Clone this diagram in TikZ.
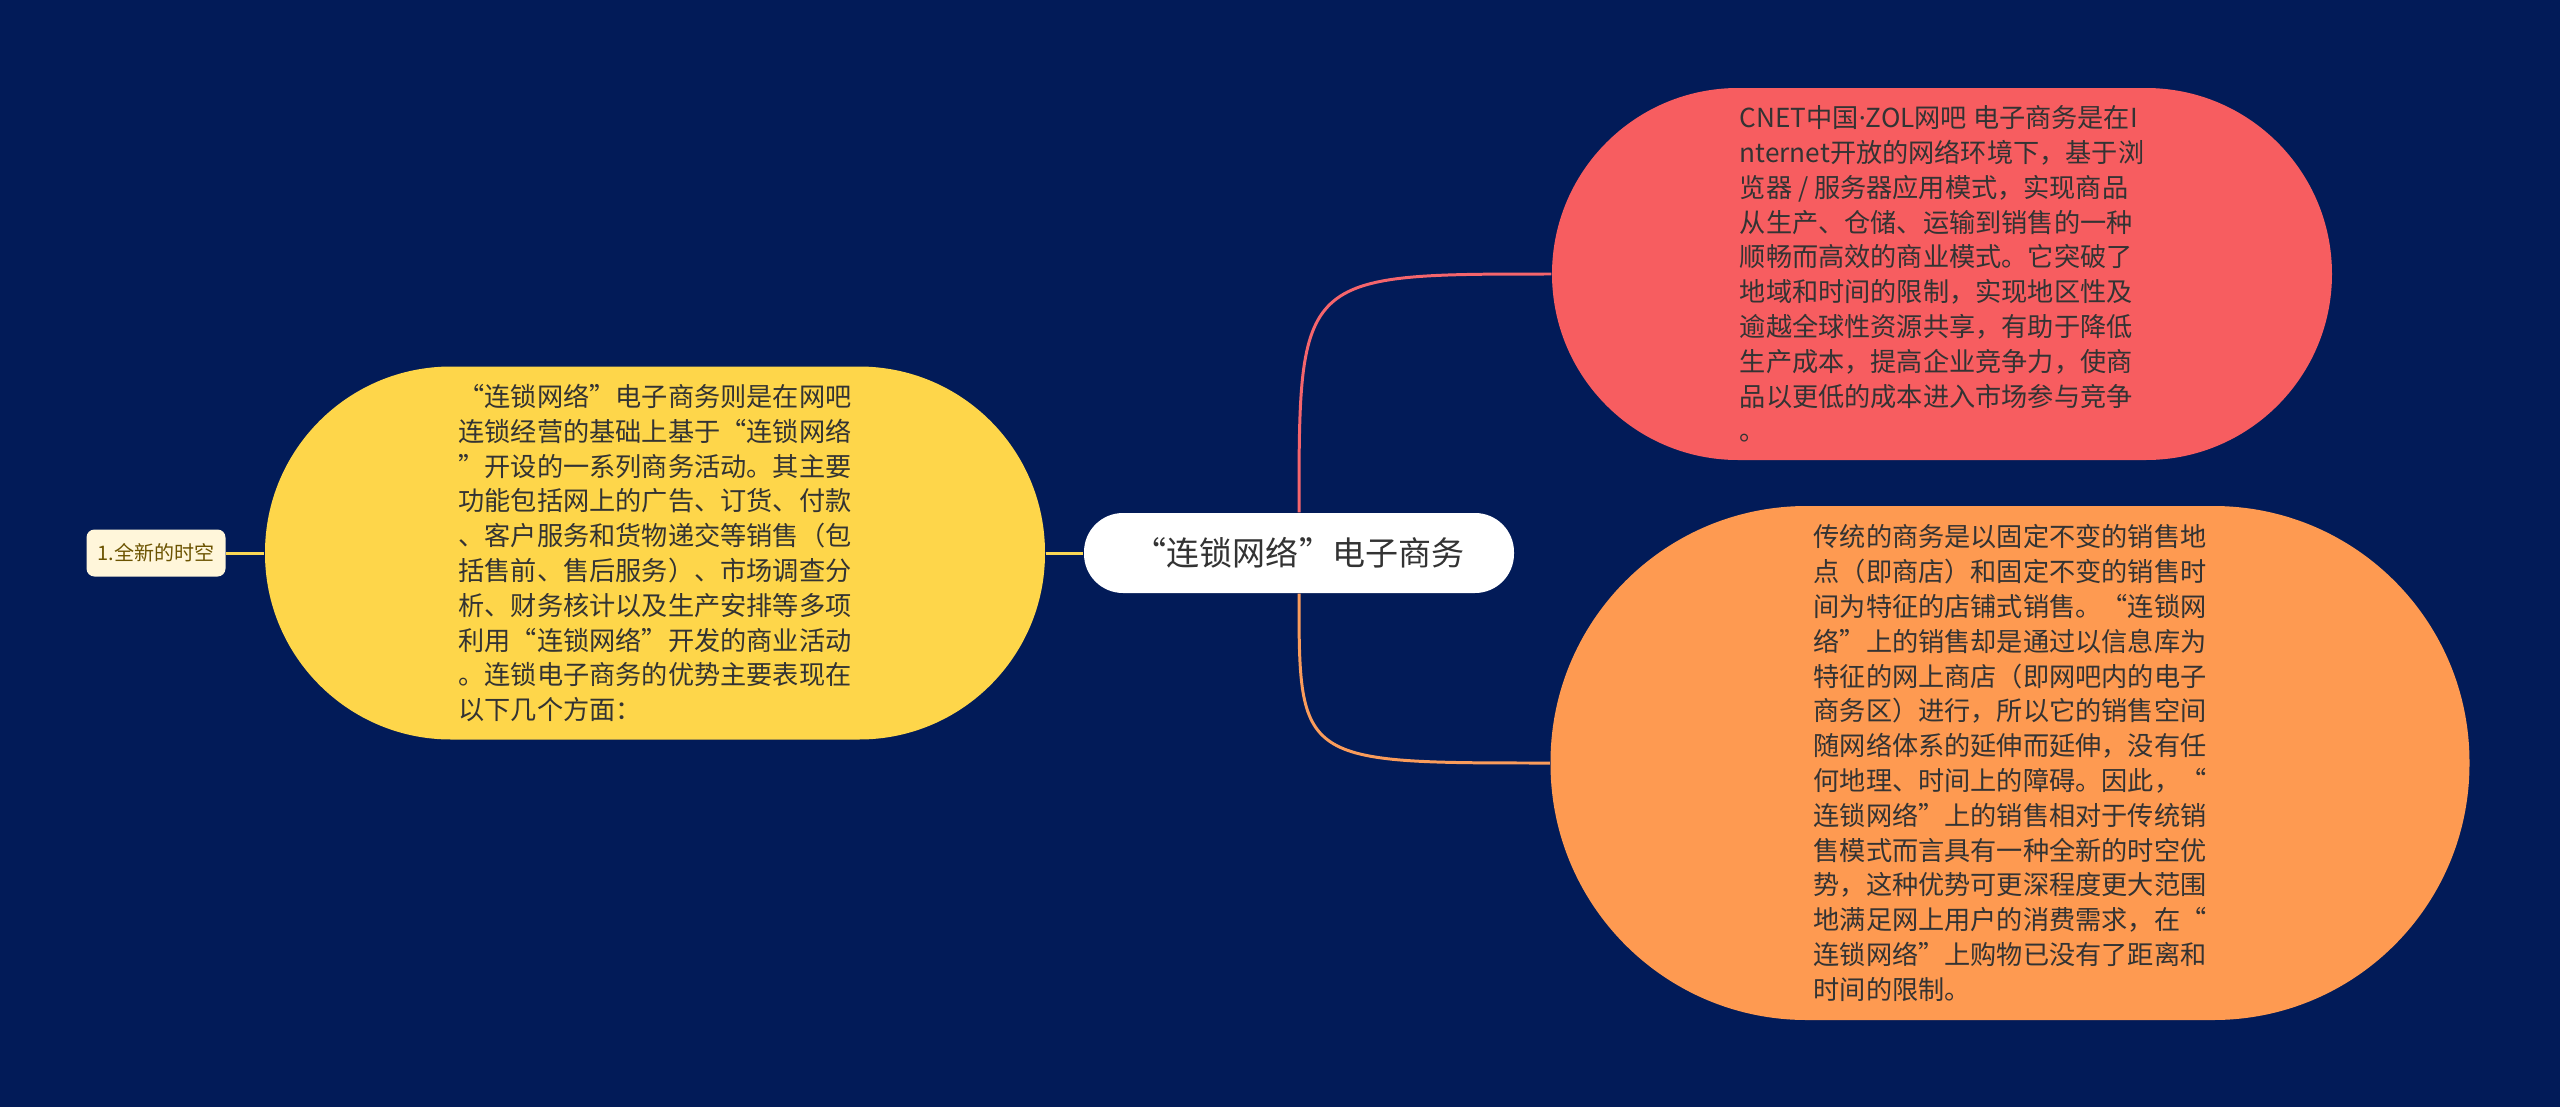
\documentclass[tikz,border=0pt]{standalone}
\usepackage{fontspec}
\setmainfont{Noto Sans CJK SC}
\newfontfamily\latinfont{Noto Sans}
\usetikzlibrary{positioning}

\definecolor{bgnavy}{HTML}{021B58}
\definecolor{nodered}{HTML}{F75D60}
\definecolor{nodeorange}{HTML}{FE9A51}
\definecolor{nodeyellow}{HTML}{FED64A}
\definecolor{tagcream}{HTML}{FFF6DA}
\definecolor{tagtext}{HTML}{6B5300}
\definecolor{textdark}{HTML}{333333}
\definecolor{linered}{HTML}{F5656C}
\definecolor{lineorange}{HTML}{FA9C5B}
\definecolor{lineyellow}{HTML}{FBD855}

\begin{document}
\begin{tikzpicture}[x=0.1mm, y=-0.1mm,
    bubble/.style={rectangle, inner sep=0pt, align=left, text=textdark,
        font=\fontsize{7.45pt}{9.9pt}\selectfont},
    link/.style={line width=0.85pt}]
    % Background
    \fill[bgnavy] (0,0) rectangle (2560,1107);
    \useasboundingbox (0,0) rectangle (2560,1107);

    % Root
    \node[rectangle, fill=white, rounded corners=3.9mm, minimum width=43mm,
        minimum height=8mm, text=textdark,
        font=\fontsize{9.4pt}{11pt}\selectfont] (root) at (1299,553) {“连锁网络”电子商务};

    % Left branch
    \node[bubble, fill=nodeyellow, rounded corners=18.6mm, minimum width=78mm,
        minimum height=37.3mm] (chain) at (655,553)
        {“连锁网络”电子商务则是在网吧\\
         连锁经营的基础上基于“连锁网络\\
         ”开设的一系列商务活动。其主要\\
         功能包括网上的广告、订货、付款\\
         、客户服务和货物递交等销售（包\\
         括售前、售后服务）、市场调查分\\
         析、财务核计以及生产安排等多项\\
         利用“连锁网络”开发的商业活动\\
         。连锁电子商务的优势主要表现在\\
         以下几个方面：};
    \node[rectangle, fill=tagcream, rounded corners=0.8mm, minimum width=13.9mm,
        minimum height=4.7mm, inner sep=0pt, text=tagtext,
        font=\fontsize{5.7pt}{7pt}\selectfont] (space) at (156,553) {1.全新的时空};

    % Right branch
    \node[bubble, fill=nodered, rounded corners=18.6mm, minimum width=78mm,
        minimum height=37.2mm] (intro) at (1942,274)
        {CNET中国{\latinfont ·}ZOL网吧 电子商务是在I\\
         nternet开放的网络环境下，基于浏\\
         览器 / 服务器应用模式，实现商品\\
         从生产、仓储、运输到销售的一种\\
         顺畅而高效的商业模式。它突破了\\
         地域和时间的限制，实现地区性及\\
         逾越全球性资源共享，有助于降低\\
         生产成本，提高企业竞争力，使商\\
         品以更低的成本进入市场参与竞争\\
         。};
    \node[bubble, fill=nodeorange, rounded corners=25.6mm, minimum width=91.9mm,
        minimum height=51.4mm] (store) at (2010,763)
        {传统的商务是以固定不变的销售地\\
         点（即商店）和固定不变的销售时\\
         间为特征的店铺式销售。“连锁网\\
         络”上的销售却是通过以信息库为\\
         特征的网上商店（即网吧内的电子\\
         商务区）进行，所以它的销售空间\\
         随网络体系的延伸而延伸，没有任\\
         何地理、时间上的障碍。因此，“\\
         连锁网络”上的销售相对于传统销\\
         售模式而言具有一种全新的时空优\\
         势，这种优势可更深程度更大范围\\
         地满足网上用户的消费需求，在“\\
         连锁网络”上购物已没有了距离和\\
         时间的限制。};

    % Links
    \draw[link, lineyellow] (space) -- (chain);
    \draw[link, lineyellow] (chain) -- (root);
    \draw[link, linered] (root.north) .. controls (root.north |- intro.west)
        and (root.north |- intro.west) .. (intro.west);
    \draw[link, lineorange] (root.south) .. controls (root.south |- store.west)
        and (root.south |- store.west) .. (store.west);
\end{tikzpicture}
\end{document}
